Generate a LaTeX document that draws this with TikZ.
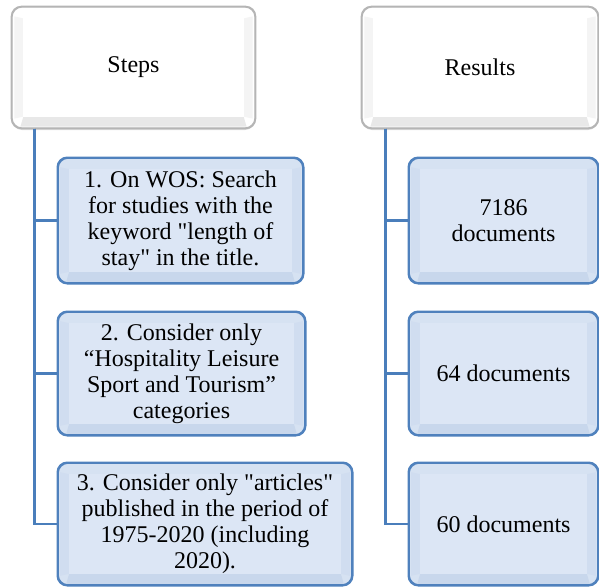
\documentclass[tikz,border=0pt]{standalone}
\usepackage{fontspec}
\setmainfont{Liberation Serif}
\usetikzlibrary{shadows}
\definecolor{bluefill}{HTML}{D6E2F2}
\definecolor{blueinner}{HTML}{DCE6F5}
\definecolor{bluebottom}{HTML}{C8D7EC}
\definecolor{blueside}{HTML}{D0DDF0}
\definecolor{blueline}{HTML}{4F81BD}
\definecolor{greyline}{HTML}{B5B5B5}
\definecolor{greybottom}{HTML}{E8E8E8}
\definecolor{greyside}{HTML}{F4F4F4}
\definecolor{linkcol}{HTML}{4A7EBB}
\begin{document}
\begin{tikzpicture}[x=1pt,y=-1pt,
  basebox/.style={rounded corners=10pt, align=center, inner sep=0pt,
     font=\fontsize{24}{26}\selectfont, text=black},
  headbox/.style={basebox, fill=white, draw=greyline, line width=1.2pt,
     drop shadow={shadow xshift=0pt, shadow yshift=-2pt, opacity=0.25}},
  itembox/.style={basebox, fill=bluefill, draw=blueline, line width=1.6pt},
  link/.style={draw=linkcol, line width=2.2pt}]
\useasboundingbox (0,0) rectangle (599,587);

% bevel helper: name, inner colour, bottom colour, side colour, border colour
\newcommand\bevel[5]{%
  \fill[#4] ([shift={(3pt,10pt)}]#1.south west) -- ([shift={(12pt,12pt)}]#1.south west)
     -- ([shift={(12pt,-12pt)}]#1.north west) -- ([shift={(3pt,-10pt)}]#1.north west) -- cycle;
  \fill[#4] ([shift={(-3pt,10pt)}]#1.south east) -- ([shift={(-12pt,12pt)}]#1.south east)
     -- ([shift={(-12pt,-12pt)}]#1.north east) -- ([shift={(-3pt,-10pt)}]#1.north east) -- cycle;
  \fill[#3] ([shift={(9pt,2pt)}]#1.south west) -- ([shift={(12pt,12pt)}]#1.south west)
     -- ([shift={(-12pt,12pt)}]#1.south east) -- ([shift={(-9pt,2pt)}]#1.south east) -- cycle;
  \fill[#2] ([shift={(12pt,-12pt)}]#1.north west) rectangle ([shift={(-12pt,12pt)}]#1.south east);
  \draw[#5, rounded corners=10pt, line width=1.4pt] (#1.north west) rectangle (#1.south east);
}

% headers
\node[headbox, minimum width=243pt, minimum height=121pt] (steps) at (133.5,67.5) {};
\node[headbox, minimum width=236pt, minimum height=121pt] (results) at (480,67.5) {};
\bevel{steps}{white}{greybottom}{greyside}{greyline}
\bevel{results}{white}{greybottom}{greyside}{greyline}
\node[basebox] at (steps.center) {Steps};
\node[basebox] at (results.center) {Results};

% step boxes
\node[itembox, minimum width=245pt, minimum height=125pt] (s1) at (180.5,220.5) {};
\node[itembox, minimum width=247pt, minimum height=123pt] (s2) at (181.5,373.5) {};
\node[itembox, minimum width=294pt, minimum height=122pt] (s3) at (205,524) {};
% result boxes
\node[itembox, minimum width=189pt, minimum height=125pt] (r1) at (503.5,220.5) {};
\node[itembox, minimum width=189pt, minimum height=123pt] (r2) at (503.5,373.5) {};
\node[itembox, minimum width=189pt, minimum height=122pt] (r3) at (503.5,524) {};
\foreach \n in {s1,s2,s3,r1,r2,r3} {\bevel{\n}{blueinner}{bluebottom}{blueside}{blueline}}

\node[basebox] at (s1.center) {1. On WOS: Search\\for studies with the\\keyword \textquotedbl length of\\stay\textquotedbl{} in the title.};
\node[basebox] at (s2.center) {2. Consider only\\“Hospitality Leisure\\Sport and Tourism”\\categories};
\node[basebox] at (s3.center) {3. Consider only \textquotedbl articles\textquotedbl\\published in the period of\\1975-2020 (including\\2020).};
\node[basebox] at (r1.center) {7186\\documents};
\node[basebox] at (r2.center) {64 documents};
\node[basebox] at (r3.center) {60 documents};

% connectors
\coordinate (sl) at ([xshift=23pt]steps.south west);
\coordinate (rl) at ([xshift=24pt]results.south west);
\draw[link] (sl) |- (s1.west);
\draw[link] (sl) |- (s2.west);
\draw[link] (sl) |- (s3.west);
\draw[link] (rl) |- (r1.west);
\draw[link] (rl) |- (r2.west);
\draw[link] (rl) |- (r3.west);
\end{tikzpicture}
\end{document}
